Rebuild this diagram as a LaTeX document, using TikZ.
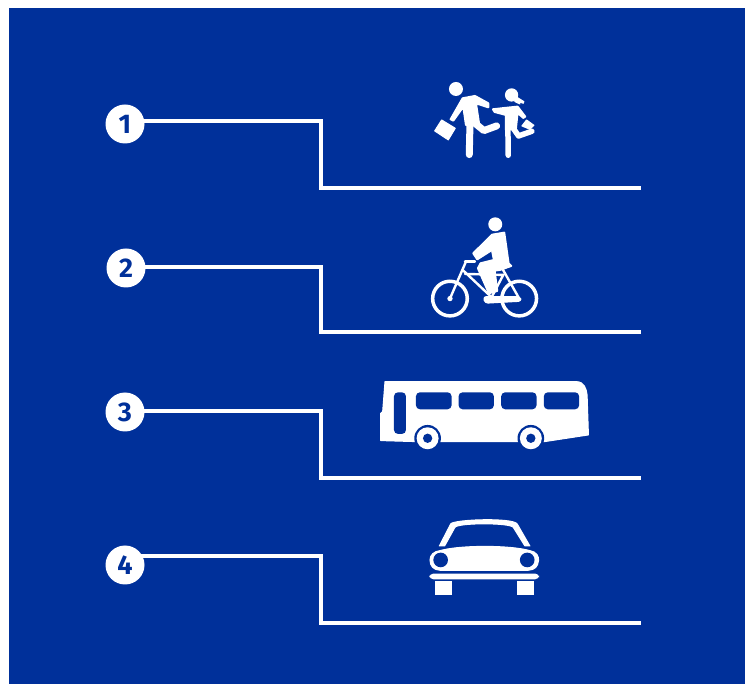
\documentclass[tikz,border=0pt]{standalone}
\usepackage{fontspec}
\setmainfont{Fira Sans}
\usepackage{xcolor,tikz}
\definecolor{signblue}{HTML}{00309A}
\begin{document}
\begin{tikzpicture}[x=1pt,y=-1pt,numdot/.style={circle,fill=white,text=signblue,minimum size=39pt,inner sep=0pt,font=\fontsize{27}{27}\selectfont\bfseries},rule/.style={draw=white,line width=3.4pt},limb/.style={draw=white,line width=7pt,line cap=round,line join=round},thin limb/.style={draw=white,line width=5.5pt,line cap=round,line join=round},frame/.style={draw=white,line width=2.4pt,line cap=round},ink/.style={fill=white,draw=white,line width=1pt,line join=round},fat ink/.style={fill=white,draw=white,line width=2pt,line join=round},hole/.style={fill=signblue}]
\useasboundingbox (0,0) rectangle (745,684);
\fill[white] (0,0) rectangle (745,684);
\fill[signblue] (9,8) rectangle (745,684);
\node[numdot] (n1) at (125,124) {1};
\node[numdot] (n2) at (126,268) {2};
\node[numdot] (n3) at (125,412) {3};
\node[numdot] (n4) at (125,565) {4};
\coordinate (b1) at (321,121); \coordinate (e1) at (641,188);
\coordinate (b2) at (321,267); \coordinate (e2) at (641,332);
\coordinate (b3) at (321,411); \coordinate (e3) at (641,478);
\coordinate (b4) at (321,556); \coordinate (e4) at (641,623);
\draw[rule] ([xshift=-4pt]n1.east |- b1)--(b1)|-(e1);
\draw[rule] ([xshift=-4pt]n2.east |- b2)--(b2)|-(e2);
\draw[rule] ([xshift=-4pt]n3.east |- b3)--(b3)|-(e3);
\draw[rule] ([xshift=-4pt]n4.east |- b4)--(b4)|-(e4);
% walkers
\begin{scope}[shift={(420,70)},x=0.333pt,y=-0.333pt]
\fill[white] (108,57) circle (21);
\filldraw[fat ink] (128,85)--(165,78)--(205,100)--(205,112)--(168,100)--(178,165)--(138,165)--(130,110)--(100,152)--(92,148)--cycle;
\draw[limb] (150,165)--(148,254);
\draw[limb] (165,160)--(192,182)--(230,168);
\filldraw[ink] (65,150)--(106,175)--(85,210)--(44,183)--cycle;
\fill[white] (275,75) circle (20);
\filldraw[ink] (285,78)--(312,95)--(310,100)--(295,95)--(300,102)--(285,95)--cycle;
\filldraw[fat ink] (255,114)--(293,110)--(316,140)--(310,144)--(293,128)--(288,176)--(258,180)--(258,135)--(224,126)--(219,118)--cycle;
\draw[thin limb] (264,180)--(265,256);
\draw[thin limb] (278,172)--(296,198)--(336,184);
\filldraw[ink] (320,150)--(342,166)--(330,178)--(306,168)--cycle;
\end{scope}
% bicycle
\begin{scope}[shift={(420,210)},x=0.333pt,y=-0.333pt]
\draw[white,line width=3.5pt] (90,266) circle (52);
\draw[white,line width=3.5pt] (298,266) circle (52);
\fill[white] (90,266) circle (8);
\draw[frame] (90,266)--(138,155);
\draw[frame] (135,155)--(165,155);
\draw[frame] (128,180)--(215,262)--(298,266);
\draw[frame] (135,192)--(250,195)--(215,262);
\draw[frame] (245,172)--(298,266);
\fill[white] (226,43) circle (21);
\filldraw[fat ink] (217,74)--(253,68)--(266,160)--(274,168)--(240,180)--(224,182)--(232,243)--(207,250)--(174,175)--(182,160)--(222,150)--(216,120)--(172,148)--(160,130)--cycle;
\filldraw[ink,rounded corners=3pt] (190,260)--(300,260)--(305,274)--(195,280)--cycle;
\end{scope}
% bus
\begin{scope}[shift={(370,370)},x=0.333pt,y=-0.333pt]
\filldraw[ink] (45,35)--(620,35) .. controls (642,35) and (650,55) .. (652,75)--(656,195)--(525,215)--(135,215)--(32,212)--(32,130)--(38,125)--cycle;
\fill[hole,rounded corners=4pt] (138,67) rectangle (245,118);
\fill[hole,rounded corners=4pt] (266,67) rectangle (372,118);
\fill[hole,rounded corners=4pt] (394,67) rectangle (500,118);
\fill[hole,rounded corners=4pt] (522,67) rectangle (628,118);
\fill[hole,rounded corners=4pt] (72,67) rectangle (108,192);
\fill[hole] (173,205) circle (40);
\fill[white] (173,205) circle (33);
\fill[hole] (173,205) circle (14);
\fill[hole] (483,205) circle (40);
\fill[white] (483,205) circle (33);
\fill[hole] (483,205) circle (14);
\end{scope}
% car
\begin{scope}[shift={(420,510)},x=0.333pt,y=-0.333pt]
\filldraw[ink] (58,108)--(92,42) .. controls (100,28) and (280,22) .. (292,42)--(330,108)--(315,108)--(280,52) .. controls (270,38) and (115,38) .. (105,52)--(74,108)--cycle;
\filldraw[ink] (60,122) .. controls (120,105) and (270,105) .. (330,122) .. controls (350,125) and (358,140) .. (356,152) .. controls (354,170) and (345,180) .. (325,181)--(60,181) .. controls (40,180) and (30,168) .. (30,150) .. controls (30,135) and (42,124) .. (60,122)--cycle;
\fill[hole] (62,150) circle (22);
\fill[hole] (322,150) circle (22);
\fill[white,rounded corners=4pt] (28,191) rectangle (358,208);
\fill[white] (45,213) rectangle (97,255);
\fill[white] (290,213) rectangle (342,255);
\end{scope}
\end{tikzpicture}
\end{document}
